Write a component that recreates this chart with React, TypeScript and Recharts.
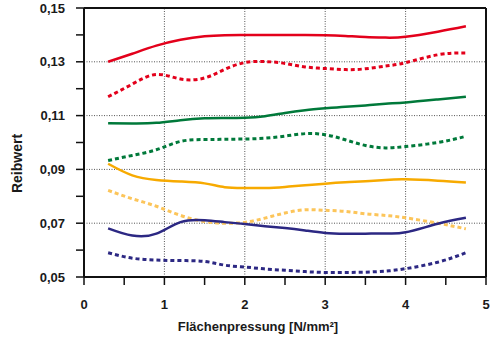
import React from "react";
import { LineChart, Line, XAxis, YAxis, ReferenceLine } from "recharts";

// measurement points (Flächenpressung, N/mm²)
const X = [0.3, 0.6, 0.9, 1.2, 1.5, 1.75, 2, 2.25, 2.5, 2.75, 3, 3.25, 3.5, 3.75, 4, 4.4, 4.75];

const RED_SOLID = [0.130, 0.133, 0.136, 0.1382, 0.1395, 0.1399, 0.14, 0.14, 0.14, 0.14, 0.1399, 0.1396, 0.1392, 0.139, 0.1393, 0.1412, 0.1432];
const RED_DOT = [0.117, 0.1217, 0.1253, 0.1236, 0.124, 0.1272, 0.1297, 0.1301, 0.1294, 0.1281, 0.1275, 0.1271, 0.1274, 0.1284, 0.1297, 0.1326, 0.1333];
const GREEN_SOLID = [0.1072, 0.1071, 0.1073, 0.1083, 0.109, 0.1091, 0.1092, 0.1098, 0.111, 0.112, 0.1127, 0.1133, 0.1138, 0.1144, 0.1149, 0.116, 0.117];
const GREEN_DOT = [0.0933, 0.0952, 0.0973, 0.1004, 0.1011, 0.1012, 0.1013, 0.1016, 0.1024, 0.1033, 0.1029, 0.101, 0.0989, 0.098, 0.0985, 0.1, 0.1023];
const ORANGE_SOLID = [0.0921, 0.0878, 0.0861, 0.0855, 0.0848, 0.0834, 0.0831, 0.0831, 0.0835, 0.0841, 0.0847, 0.0852, 0.0856, 0.0861, 0.0863, 0.0858, 0.0851];
const ORANGE_DOT = [0.0822, 0.0791, 0.0763, 0.0729, 0.0706, 0.07, 0.0703, 0.0719, 0.0738, 0.075, 0.0748, 0.0744, 0.0735, 0.0729, 0.072, 0.07, 0.0679];
const NAVY_SOLID = [0.0681, 0.0654, 0.0661, 0.0704, 0.0711, 0.0704, 0.0697, 0.0689, 0.0682, 0.0673, 0.0664, 0.0661, 0.0661, 0.0662, 0.0666, 0.0698, 0.072];
const NAVY_DOT = [0.059, 0.057, 0.0563, 0.0561, 0.0558, 0.0544, 0.0537, 0.053, 0.0525, 0.052, 0.0517, 0.0517, 0.0518, 0.0522, 0.0531, 0.0555, 0.059];

const X_TICKS = [0, 0.5, 1, 1.5, 2, 2.5, 3, 3.5, 4, 4.5, 5];
const Y_TICKS = [0.05, 0.06, 0.07, 0.08, 0.09, 0.1, 0.11, 0.12, 0.13, 0.14, 0.15];
const X_GRID = [1, 2, 3, 4];
const Y_GRID = [0.07, 0.09, 0.11, 0.13];

const X_LABEL = "Flächenpressung [N/mm²]";
const Y_LABEL = "Reibwert";

const data = X.map((x, i) => ({
    x,
    redSolid: RED_SOLID[i],
    redDot: RED_DOT[i],
    greenSolid: GREEN_SOLID[i],
    greenDot: GREEN_DOT[i],
    orangeSolid: ORANGE_SOLID[i],
    orangeDot: ORANGE_DOT[i],
    navySolid: NAVY_SOLID[i],
    navyDot: NAVY_DOT[i],
}));

const SERIES = [
    { key: "redSolid", color: "#e3001b", dashed: false },
    { key: "redDot", color: "#e3001b", dashed: true },
    { key: "greenSolid", color: "#00793a", dashed: false },
    { key: "greenDot", color: "#00793a", dashed: true },
    { key: "orangeSolid", color: "#f7aa00", dashed: false },
    { key: "orangeDot", color: "#fcc55a", dashed: true },
    { key: "navySolid", color: "#2c2883", dashed: false },
    { key: "navyDot", color: "#2c2883", dashed: true },
];

const FONT = "'Liberation Sans', Arial, sans-serif";
const tickStyle = { fill: "#1a1a1a", fontSize: 13, fontWeight: 700, fontFamily: FONT };

const fmtY = (v: number) => (Math.round(v * 100) % 2 === 1 ? v.toFixed(2).replace(".", ",") : "");
const fmtX = (v: number) => (Number.isInteger(v) ? String(v) : "");

export default function App() {
    return (
        <div style={{ position: "absolute", left: 0, top: 0, width: 490, height: 339, background: "#fff" }}>
            <LineChart width={490} height={339} data={data} margin={{ top: 8, right: 4, bottom: 0, left: 0 }}>
                <XAxis
                    dataKey="x"
                    type="number"
                    domain={[0, 5]}
                    ticks={X_TICKS}
                    tickFormatter={fmtX}
                    tickSize={8}
                    tickMargin={15}
                    height={62}
                    tick={tickStyle}
                    axisLine={{ stroke: "#111", strokeWidth: 2 }}
                    tickLine={{ stroke: "#111", strokeWidth: 1.5 }}
                    label={{
                        content: ({ viewBox }: any) => (
                            <text
                                x={viewBox.x + viewBox.width / 2 - 27}
                                y={viewBox.y + viewBox.height - 8}
                                textAnchor="middle"
                                fill="#1a1a1a"
                                fontSize={13}
                                fontWeight={700}
                                fontFamily={FONT}
                            >
                                {X_LABEL}
                            </text>
                        ),
                    }}
                />
                <YAxis
                    type="number"
                    domain={[0.05, 0.15]}
                    ticks={Y_TICKS}
                    tickFormatter={fmtY}
                    tickSize={8}
                    tickMargin={11}
                    width={84}
                    tick={tickStyle}
                    axisLine={{ stroke: "#111", strokeWidth: 2 }}
                    tickLine={{ stroke: "#111", strokeWidth: 1.5 }}
                    label={{
                        content: ({ viewBox }: any) => {
                            const cx = viewBox.x + 17;
                            const cy = viewBox.y + viewBox.height / 2 + 21;
                            return (
                                <text
                                    x={cx}
                                    y={cy}
                                    transform={`rotate(-90 ${cx} ${cy})`}
                                    textAnchor="middle"
                                    dominantBaseline="central"
                                    fill="#1a1a1a"
                                    fontSize={14}
                                    fontWeight={700}
                                    fontFamily={FONT}
                                >
                                    {Y_LABEL}
                                </text>
                            );
                        },
                    }}
                />
                {X_GRID.map(v => (
                    <ReferenceLine key={"gx" + v} x={v} stroke="#555" strokeWidth={1} strokeDasharray="1 1.5" />
                ))}
                {Y_GRID.map(v => (
                    <ReferenceLine key={"gy" + v} y={v} stroke="#555" strokeWidth={1} strokeDasharray="1 1.5" />
                ))}
                <ReferenceLine y={0.15} stroke="#111" strokeWidth={2} />
                <ReferenceLine x={5} stroke="#111" strokeWidth={2} />
                {SERIES.map(s => (
                    <Line
                        key={s.key}
                        dataKey={s.key}
                        type="natural"
                        stroke={s.color}
                        strokeWidth={s.dashed ? 3 : 2.5}
                        strokeDasharray={s.dashed ? "4 3" : undefined}
                        dot={false}
                        activeDot={false}
                        isAnimationActive={false}
                    />
                ))}
            </LineChart>
        </div>
    );
}
